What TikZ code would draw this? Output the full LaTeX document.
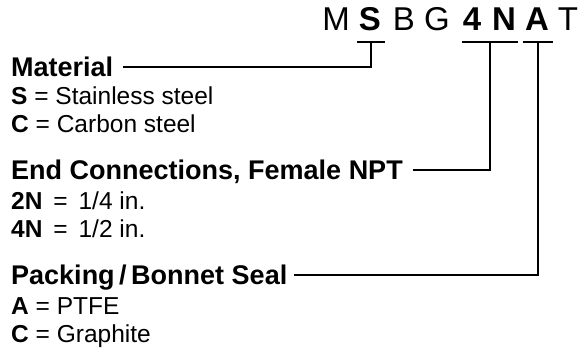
\documentclass[tikz,border=0pt]{standalone}
\usepackage{fontspec}
\setmainfont{Liberation Sans}
\usetikzlibrary{calc}

\tikzset{
  heading/.style={anchor=base west, inner sep=0pt, text height=19pt, text depth=0pt,
    font=\fontsize{27}{31}\selectfont\bfseries},
  item/.style={anchor=base west, inner sep=0pt, font=\fontsize{24.5}{28}\selectfont},
  codechar/.style={anchor=base, inner sep=0pt, font=\fontsize{33}{37}\selectfont},
  codebold/.style={codechar, font=\fontsize{33}{37}\selectfont\bfseries},
  leader/.style={line width=2pt}
}

\begin{document}
\begin{tikzpicture}[x=1pt,y=-1pt]
%\draw [help lines, step=10] (0,0) grid (582,350);
\useasboundingbox (0,0) rectangle (582,350);
% model number
\node [codechar] (cM) at (336,31) {M};
\node [codebold] (cS) at (370,31) {S};
\node [codechar] (cB) at (404,31) {B};
\node [codechar] (cG) at (437,31) {G};
\node [codebold] (c4) at (472,31) {4};
\node [codebold] (cN) at (504,31) {N};
\node [codebold] (cA) at (537,31) {A};
\node [codechar] (cT) at (568,31) {T};
% options
\node [heading] (mat) at (11,77) {Material};
\node [item] (matS) at (11,105) {\textbf{S} = Stainless steel};
\node [item] (matC) at (11,133) {\textbf{C} = Carbon steel};
\node [heading] (endc) at (11,180) {End Connections, Female NPT};
\node [item] (end2N) at (11,210) {\textbf{2N}\,\ =\ \,1/4 in.};
\node [item] (end4N) at (11,238) {\textbf{4N}\,\ =\ \,1/2 in.};
\node [heading] (pack) at (11,285) {Packing\,/\,Bonnet Seal};
\node [item] (packA) at (11,315) {\textbf{A} = PTFE};
\node [item] (packC) at (11,343) {\textbf{C} = Graphite};
% bars under the code
\coordinate (tS) at ($(cS.base)+(1,11)$);
\coordinate (tN) at ($(c4.base)!0.5!(cN.base)+(2,11)$);
\coordinate (tA) at ($(cA.base)+(1,11)$);
\draw [leader] ($(tS)+(-14,0)$) -- ($(tS)+(14,0)$);
\draw [leader] ($(tN)+(-28,0)$) -- ($(tN)+(28,0)$);
\draw [leader] ($(tA)+(-15,0)$) -- ($(tA)+(15,0)$);
% leaders
\draw [leader] ([xshift=10pt]mat.east) -| (tS);
\draw [leader] ([xshift=10pt]endc.east) -| (tN);
\draw [leader] ([xshift=7pt]pack.east) -| (tA);
\end{tikzpicture}
\end{document}
